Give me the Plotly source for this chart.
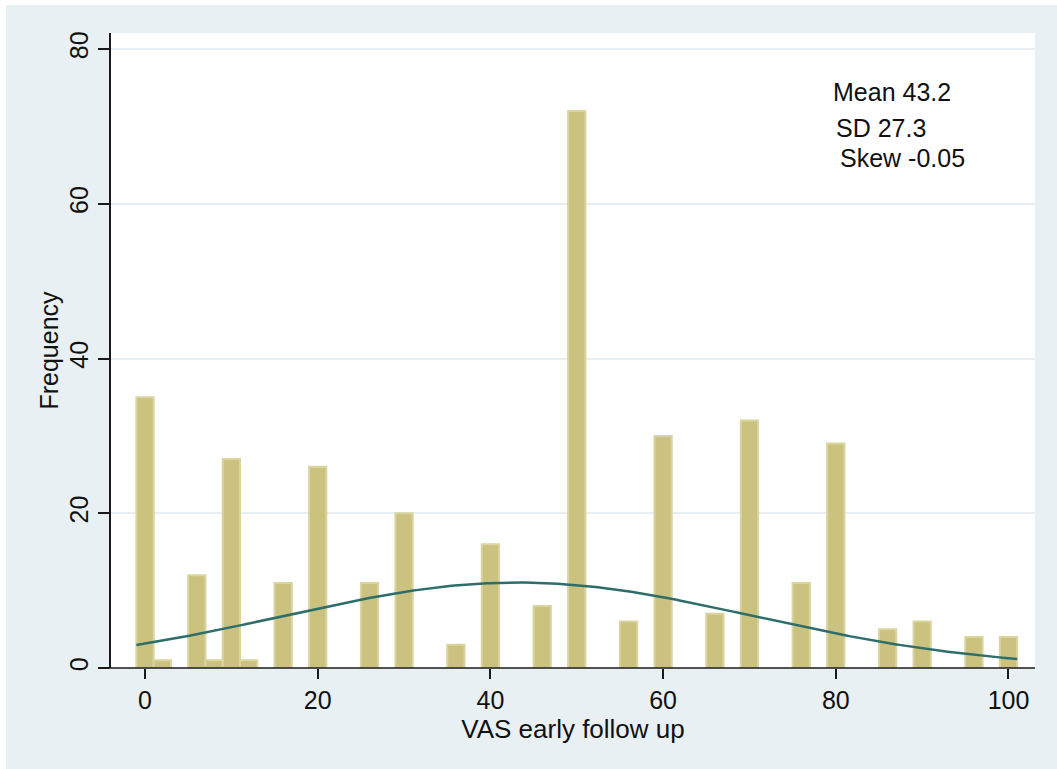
import numpy as np
import plotly.graph_objects as go

# Histogram of VAS scores at early follow up (bin width 2, centred on even values)
bin_centers = [0, 2, 6, 8, 10, 12, 16, 20, 26, 30, 36, 40, 46, 50, 56, 60, 66, 70, 76, 80, 86, 90, 96, 100]
frequencies = [35, 1, 12, 1, 27, 1, 11, 26, 11, 20, 3, 16, 8, 72, 6, 30, 7, 32, 11, 29, 5, 6, 4, 4]
bin_width = 2

# Summary statistics shown in the corner
mean_vas = 43.2
sd_vas = 27.3
skew_vas = -0.05

x_ticks = [0, 20, 40, 60, 80, 100]
y_ticks = [0, 20, 40, 60, 80]

# Figure geometry (pixels)
W, H = 1057, 769
ml, mr, mt, mb = 111, 22, 33, 101
pw, ph = W - ml - mr, H - mt - mb

FONT = "Liberation Sans, Arial, Helvetica, sans-serif"
BG = "#E9F0F3"

# Normal density scaled to counts
n_obs = sum(frequencies)
xs = np.linspace(-1, 101, 300)
dens = n_obs * bin_width * np.exp(-0.5 * ((xs - mean_vas) / sd_vas) ** 2) / (sd_vas * np.sqrt(2 * np.pi))

fig = go.Figure()
fig.add_trace(go.Bar(
    x=bin_centers, y=frequencies, width=bin_width,
    marker=dict(color="#CAC27E", line=dict(color="#DAD49F", width=2)),
    hoverinfo="x+y",
))
fig.add_trace(go.Scatter(
    x=xs, y=dens, mode="lines",
    line=dict(color="#2E6E6A", width=2.5),
))


def px_x(p):
    return (p - ml) / pw


def px_y(p):
    return (H - mb - p) / ph


shapes = [
    # white margin strips on the left and top of the grey graph region
    dict(type="rect", xref="paper", yref="paper", layer="below",
         x0=px_x(0), x1=px_x(6), y0=px_y(H + 5), y1=px_y(-5),
         fillcolor="white", line=dict(width=0)),
    dict(type="rect", xref="paper", yref="paper", layer="below",
         x0=px_x(-5), x1=px_x(W + 5), y0=px_y(5), y1=px_y(-5),
         fillcolor="white", line=dict(width=0)),
    # x axis line extends a little left of the y axis
    dict(type="line", xref="paper", yref="paper", layer="above",
         x0=px_x(100), x1=1, y0=0, y1=0,
         line=dict(color="#1a1a1a", width=1.5)),
]

annotations = []
for txt, xl, yc in [(f"Mean {mean_vas}", 833, 91.7),
                    (f"SD {sd_vas}", 836, 128),
                    (f"Skew {skew_vas}", 840, 158)]:
    annotations.append(dict(
        text=txt, xref="paper", yref="paper", x=px_x(xl - 2), y=px_y(yc),
        xanchor="left", yanchor="middle", showarrow=False,
        font=dict(family=FONT, size=25, color="#111111"),
    ))

fig.update_layout(
    width=W, height=H,
    margin=dict(l=ml, r=mr, t=mt, b=mb, pad=0),
    paper_bgcolor=BG, plot_bgcolor="white",
    showlegend=False,
    font=dict(family=FONT, size=25, color="#111111"),
    shapes=shapes, annotations=annotations,
    xaxis=dict(
        range=[-3.94, 103.07], tickvals=x_ticks, ticks="outside", ticklen=10,
        tickwidth=1.5, tickcolor="#1a1a1a", showgrid=False, zeroline=False,
        showline=False, tickfont=dict(size=25),
        title=dict(text="VAS early follow up", font=dict(size=26), standoff=0),
    ),
    yaxis=dict(
        range=[0, 82.07], tickvals=y_ticks, ticks="outside", ticklen=11,
        tickwidth=1.5, tickcolor="#1a1a1a", tickangle=-90,
        showgrid=True, gridcolor="#E8EFF2", gridwidth=2, zeroline=False,
        showline=True, linecolor="#1a1a1a", linewidth=1.5,
        tickfont=dict(size=25),
        title=dict(text="Frequency", font=dict(size=25), standoff=0),
    ),
)

fig.write_html("out.html")
